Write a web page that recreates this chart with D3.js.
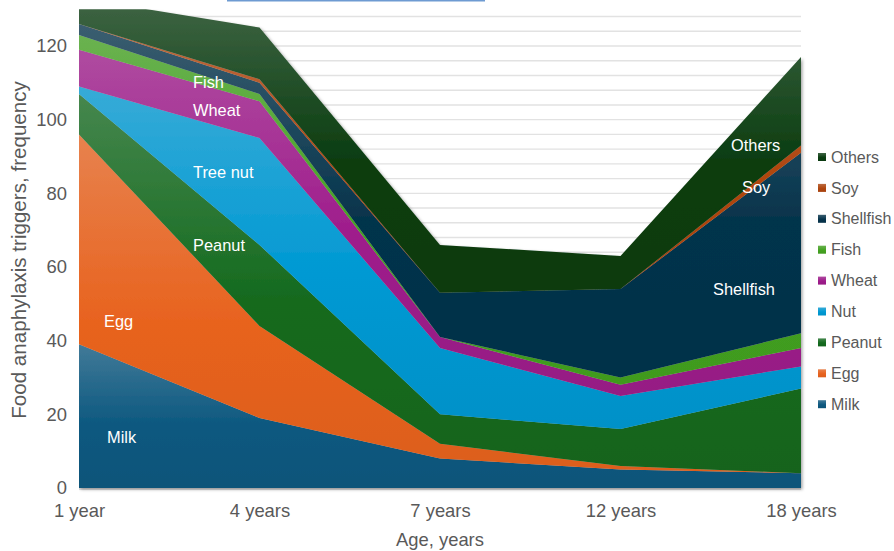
<!DOCTYPE html>
<html>
<head>
<meta charset="utf-8">
<script src="https://cdn.jsdelivr.net/npm/d3@7"></script>
<style>
  html, body { margin: 0; padding: 0; background: #ffffff; }
  svg { display: block; font-family: "Liberation Sans", Arial, sans-serif; }
</style>
</head>
<body>
<svg id="chart" width="894" height="551"></svg>
<script>
// Age groups along the x axis
const ages = ["1 year", "4 years", "7 years", "12 years", "18 years"];

// Trigger frequency per age group, one array per food (stacking order, bottom first)
const milk      = [39, 19, 8, 5, 4];
const egg       = [57, 25, 4, 1, 0];
const peanut    = [11, 22, 8, 10, 23];
const nut       = [2, 29, 18, 9, 6];
const wheat     = [10, 10, 3, 3, 5];
const fish      = [4, 2, 0, 2, 4];
const shellfish = [3, 3, 12, 24, 49];
const soy       = [0, 1, 0, 0, 2];
const others    = [7, 14, 13, 9, 24];

const seriesNames  = ["Milk", "Egg", "Peanut", "Nut", "Wheat", "Fish", "Shellfish", "Soy", "Others"];
const seriesValues = [milk, egg, peanut, nut, wheat, fish, shellfish, soy, others];
const seriesColors = ["#0e5980", "#e8631f", "#146a1e", "#0099d3", "#9e1b8b", "#44a221", "#06344c", "#b0460f", "#0b3d11"];

// Y axis: labelled every 20, gridlines every 4, top of plot at 130
const yMax = 130;
const yLabelTicks = [0, 20, 40, 60, 80, 100, 120];
const yGridTicks = d3.range(4, 130, 4);

// In-chart labels
const areaLabels = [
  { text: "Milk",      x: 107, y: 437 },
  { text: "Egg",       x: 104, y: 321 },
  { text: "Peanut",    x: 193, y: 245 },
  { text: "Tree nut",  x: 193, y: 172 },
  { text: "Wheat",     x: 193, y: 110 },
  { text: "Fish",      x: 193, y: 82 },
  { text: "Shellfish", x: 713, y: 289 },
  { text: "Soy",       x: 742, y: 187 },
  { text: "Others",    x: 731, y: 145 }
];

const svg = d3.select("#chart");

const x = d3.scalePoint().domain(ages).range([79, 801]).padding(0);
const y = d3.scaleLinear().domain([0, yMax]).range([488, 488 - yMax * (488 - 46) / 120]);

// Build stacked table
const table = ages.map((a, i) => {
  const row = { age: a };
  seriesNames.forEach((n, j) => { row[n] = seriesValues[j][i]; });
  return row;
});
const stacked = d3.stack().keys(seriesNames)(table);

const defs = svg.append("defs");

// Vertical gradient per series: lighter tint at the top, full colour below
seriesNames.forEach((n, j) => {
  const base = seriesColors[j];
  const g = defs.append("linearGradient")
    .attr("id", "grad-" + j)
    .attr("x1", 0).attr("y1", 0).attr("x2", 0).attr("y2", 1);
  g.append("stop").attr("offset", "0%").attr("stop-color", d3.interpolateRgb(base, "#e4e4e4")(0.24));
  g.append("stop").attr("offset", "55%").attr("stop-color", base);
  g.append("stop").attr("offset", "100%").attr("stop-color", d3.color(base).darker(0.15));
});

const shadow = defs.append("filter").attr("id", "shadow")
  .attr("x", "-5%").attr("y", "-5%").attr("width", "115%").attr("height", "115%");
shadow.append("feDropShadow").attr("dx", 1.5).attr("dy", 1.5).attr("stdDeviation", 1.6)
  .attr("flood-color", "#000").attr("flood-opacity", 0.35);

defs.append("clipPath").attr("id", "plotClip")
  .append("rect")
  .attr("x", x.range()[0]).attr("y", y(yMax))
  .attr("width", x.range()[1] - x.range()[0] + 6)
  .attr("height", y(0) - y(yMax) + 6);

// Thin highlight bar at the very top
svg.append("rect").attr("x", 227).attr("y", 0).attr("width", 258).attr("height", 1.5).attr("fill", "#6e9bd2");

// Gridlines
svg.append("g").selectAll("line").data(yGridTicks).join("line")
  .attr("x1", x.range()[0]).attr("x2", x.range()[1])
  .attr("y1", d => y(d)).attr("y2", d => y(d))
  .attr("stroke", "#e2e2e2").attr("stroke-width", 1.4);

// Baseline
svg.append("line")
  .attr("x1", x.range()[0]).attr("x2", x.range()[1])
  .attr("y1", y(0) + 1).attr("y2", y(0) + 1)
  .attr("stroke", "#d4d4d4").attr("stroke-width", 1.5);

// Stacked areas
const area = d3.area()
  .x(d => x(d.data.age))
  .y0(d => y(d[0]))
  .y1(d => y(d[1]));

svg.append("g").attr("clip-path", "url(#plotClip)")
  .append("g").attr("filter", "url(#shadow)")
  .selectAll("path").data(stacked).join("path")
  .attr("d", area)
  .attr("fill", (d, i) => "url(#grad-" + i + ")");

// Y axis labels
const yAxis = d3.axisLeft(y).tickValues(yLabelTicks).tickSize(0).tickPadding(12);
const yg = svg.append("g").attr("transform", `translate(${x.range()[0]},0)`).call(yAxis);
yg.select(".domain").remove();
yg.selectAll("text").attr("fill", "#595959").attr("font-size", "18.4px")
  .attr("font-family", "'Liberation Sans', Arial, sans-serif");

// X axis labels
const xAxis = d3.axisBottom(x).tickSize(0).tickPadding(16);
const xg = svg.append("g").attr("transform", `translate(0,${y(0)})`).call(xAxis);
xg.select(".domain").remove();
xg.selectAll("text").attr("fill", "#595959").attr("font-size", "18.4px")
  .attr("font-family", "'Liberation Sans', Arial, sans-serif");

// Axis titles
svg.append("text").attr("x", 440).attr("y", 546).attr("text-anchor", "middle")
  .attr("fill", "#595959").attr("font-size", "18.4px").text("Age, years");
svg.append("text").attr("transform", "translate(26,250) rotate(-90)").attr("text-anchor", "middle")
  .attr("fill", "#595959").attr("font-size", "20.6px").text("Food anaphylaxis triggers, frequency");

// Labels inside the areas
svg.append("g").selectAll("text").data(areaLabels).join("text")
  .attr("x", d => d.x).attr("y", d => d.y).attr("dy", "0.35em")
  .attr("fill", "#ffffff").attr("font-size", "16.4px").text(d => d.text);

// Legend (top entry is the top series)
const legendOrder = seriesNames.map((n, i) => ({ name: n, i })).reverse();
const lg = svg.append("g").selectAll("g").data(legendOrder).join("g")
  .attr("transform", (d, k) => `translate(818,${157 + k * 30.9})`);
lg.append("rect").attr("x", 0).attr("y", -4).attr("width", 8).attr("height", 8)
  .attr("fill", d => "url(#grad-" + d.i + ")");
lg.append("text").attr("x", 13).attr("y", 0).attr("dy", "0.35em")
  .attr("fill", "#595959").attr("font-size", "16px").text(d => d.name);
</script>
</body>
</html>
